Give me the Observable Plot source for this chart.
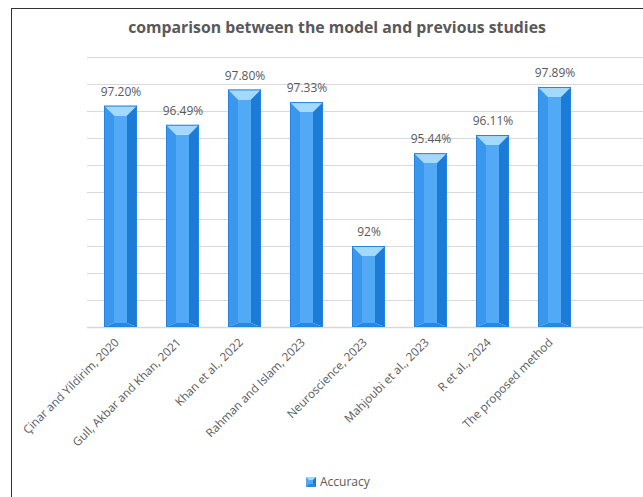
<!DOCTYPE html>
<html>
<head>
<meta charset="utf-8">
<script src="https://cdn.jsdelivr.net/npm/d3@7"></script>
<script src="https://cdn.jsdelivr.net/npm/@observablehq/plot@0.6"></script>
<style>
  html, body { margin: 0; padding: 0; background: #fff; }
  #wrap { position: relative; width: 643px; height: 497px; overflow: hidden; font-family: 'Open Sans', sans-serif; }
  #frame { position: absolute; left: 11px; top: 8px; width: 800px; height: 600px; border-left: 1px solid #333; border-top: 1px solid #333; }
  #title { position: absolute; top: 16px; left: 337px; transform: translateX(-50%); white-space: nowrap; font-weight: bold; font-size: 15.8px; line-height: 22px; color: #595959; }
  #chart { position: absolute; top: 45px; left: 0; }
  #legend { position: absolute; top: 474px; left: 306px; display: flex; align-items: center; font-size: 12px; line-height: 16px; color: #595959; }
  #legend svg { margin-right: 4px; }
</style>
</head>
<body>
<div id="wrap">
  <div id="frame"></div>
  <div id="title">comparison between the model and previous studies</div>
  <div id="chart"></div>
  <div id="legend"></div>
</div>
<script>
const categories = [
  "Çinar and Yildirim, 2020",
  "Gull, Akbar and Khan, 2021",
  "Khan et al., 2022",
  "Rahman and Islam, 2023",
  "Neuroscience, 2023",
  "Mahjoubi et al., 2023",
  "R et al., 2024",
  "The proposed method"
];
const accuracy = [97.20, 96.49, 97.80, 97.33, 92, 95.44, 96.11, 97.89];
const valueLabels = ["97.20%", "96.49%", "97.80%", "97.33%", "92%", "95.44%", "96.11%", "97.89%"];
const yDomain = [89, 99];
const gridTicks = [89, 90, 91, 92, 93, 94, 95, 96, 97, 98, 99];
const seriesName = "Accuracy";

const data = categories.map((c, i) => ({category: c, value: accuracy[i], label: valueLabels[i]}));

const colors = {
  top: "#a3d9fd", left: "#3a97ee", center: "#52a9f6", right: "#1d7bd8", bottom: "#2a86e2", outline: "#2384e2"
};

function bevelRender(index, scales, values, dimensions, context) {
  const g = d3.create("svg:g");
  const xs = (scales.scales && scales.scales.x) || {};
  const bw = xs.bandwidth != null ? xs.bandwidth : (scales.x.bandwidth ? scales.x.bandwidth() : 33);
  for (const i of index) {
    const l = values.x[i], r = l + bw;
    const t = Math.min(values.y1[i], values.y2[i]);
    const b = Math.max(values.y1[i], values.y2[i]);
    const s = 10, tb = 10, bb = 4;
    const poly = (pts, fill) => g.append("polygon").attr("points", pts.map(p => p.join(",")).join(" ")).attr("fill", fill);
    poly([[l + s, t + tb], [r - s, t + tb], [r - s, b - bb], [l + s, b - bb]], colors.center);
    poly([[l, t], [r, t], [r - s, t + tb], [l + s, t + tb]], colors.top);
    poly([[l, t], [l + s, t + tb], [l + s, b - bb], [l, b]], colors.left);
    poly([[r, t], [r, b], [r - s, b - bb], [r - s, t + tb]], colors.right);
    poly([[l, b], [l + s, b - bb], [r - s, b - bb], [r, b]], colors.bottom);
    g.append("rect").attr("x", l + 0.5).attr("y", t + 0.5).attr("width", bw - 1).attr("height", b - t - 1)
      .attr("fill", "none").attr("stroke", colors.outline).attr("stroke-width", 1);
  }
  return g.node();
}

const chart = Plot.plot({
  width: 643,
  height: 415,
  marginTop: 12,
  marginBottom: 133,
  marginLeft: 87,
  marginRight: 0,
  style: {fontFamily: "'Open Sans', sans-serif", color: "#595959", background: "transparent"},
  x: {domain: categories, range: [87, 587], paddingInner: 0.47, paddingOuter: 0.235},
  y: {domain: yDomain, axis: null},
  marks: [
    Plot.ruleY(gridTicks, {stroke: "#d9d9d9", strokeWidth: d => d === yDomain[0] ? 1.5 : 1}),
    Plot.barY(data, {x: "category", y1: yDomain[0], y2: "value", fill: colors.center, render: bevelRender}),
    Plot.text(data, {x: "category", y: "value", text: "label", dy: -14, fontSize: 12, fill: "#595959"}),
    Plot.axisX({tickRotate: -45, tickSize: 0, tickPadding: 13, fontSize: 11.7, fill: "#595959", label: null, dx: -4})
  ]
});
document.getElementById("chart").appendChild(chart);

const legend = document.getElementById("legend");
legend.innerHTML = `<svg width="10" height="10"><rect x="0" y="0" width="10" height="10" fill="${colors.center}"/><polygon points="0,0 10,0 7,3 3,3" fill="${colors.top}"/><polygon points="10,0 10,10 7,7 7,3" fill="${colors.right}"/><polygon points="0,10 3,7 7,7 10,10" fill="${colors.bottom}"/></svg><span>${seriesName}</span>`;
</script>
</body>
</html>
